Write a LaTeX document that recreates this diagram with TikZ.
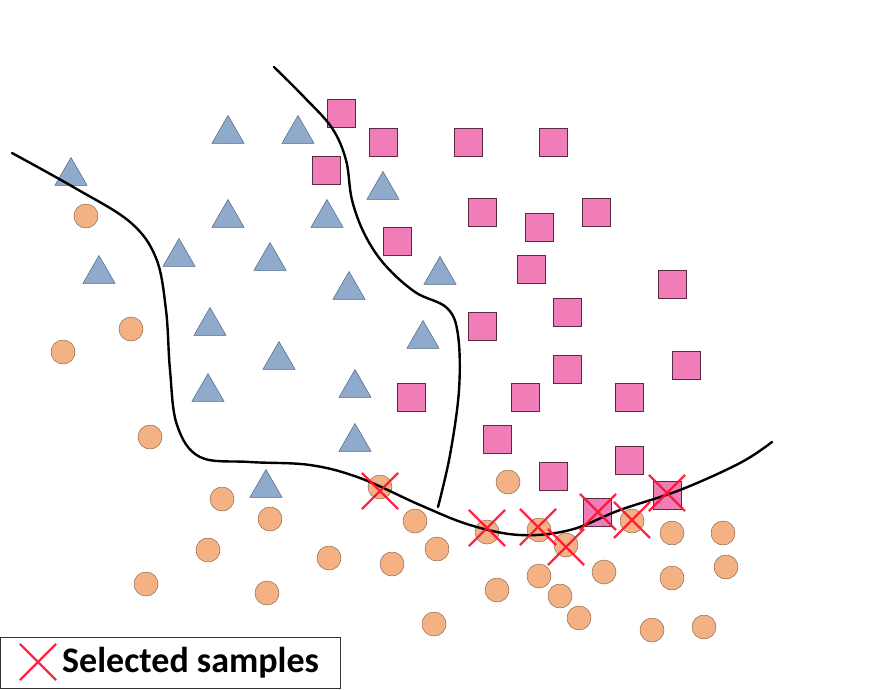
\documentclass[tikz,border=0pt]{standalone}
\usepackage{fontspec}
\setmainfont{Carlito}
\usetikzlibrary{shapes.geometric,shapes.misc}
\definecolor{trifill}{HTML}{8FAACB}
\definecolor{triedge}{HTML}{4D6584}
\definecolor{sqfill}{HTML}{F17DB8}
\definecolor{sqedge}{HTML}{5A2A40}
\definecolor{cfill}{HTML}{F4B183}
\definecolor{cedge}{HTML}{8A6A50}
\definecolor{xred}{HTML}{FF1030}
\begin{document}
\begin{tikzpicture}[x=1pt,y=-1pt,
  tri/.style={regular polygon,regular polygon sides=3,minimum size=37pt,inner sep=0pt,fill=trifill,draw=triedge,line width=0.5pt},
  sq/.style={rectangle,minimum size=28pt,inner sep=0pt,fill=sqfill,draw=sqedge,line width=0.6pt},
  circ/.style={circle,minimum size=24pt,inner sep=0pt,fill=cfill,draw=cedge,line width=0.5pt},
  xmark/.style={cross out,draw=xred,minimum size=34pt,inner sep=0pt,line width=2.2pt,opacity=0.9},
  boundary/.style={line width=2.4pt,black,line cap=round}]
\useasboundingbox (0,0) rectangle (870,689);
% triangles
\foreach \x/\y [count=\i] in {71/172,228/130,298/130,383/186,228/214,327/214,99/270,179/253,270/257,349/286,440/271,210/322,423/335,279/356,208/388,355/384,355/438,266/484}
  \node[tri] (t\i) at (\x,\y+4) {};
% squares
\foreach \x/\y [count=\i] in {341/113,383/142,468/142,553/142,326/170,482/212,539/227,596/212,397/241,531/269,672/284,567/312,482/326,567/369,686/365,411/397,525/397,629/397,497/439,629/460,553/476,597/512,667/495}
  \node[sq] (s\i) at (\x,\y) {};
% circles
\foreach \x/\y [count=\i] in {86/216,131/329,63/352,150/437,222/499,270/519,380/487,508/482,415/521,208/550,329/558,437/549,392/564,487/532,539/530,566/545,632/521,672/533,723/533,146/584,267/593,497/590,539/576,604/572,672/578,726/567,560/596,579/618,434/624,652/630,704/627}
  \node[circ] (c\i) at (\x,\y) {};
% boundaries
\draw[boundary] plot[smooth,tension=0.6] coordinates {(12,153) (75,188) (130,222) (156,258) (166,310) (170,370) (177,425) (200,457) (250,462) (310,465) (360,478) (420,505) (470,525) (520,535) (570,530) (620,510) (680,490) (740,463) (772,442)};
\draw[boundary] plot[smooth,tension=0.6] coordinates {(274,67) (305,98) (332,128) (346,160) (352,200) (365,235) (385,265) (415,292) (447,308) (458,335) (459,390) (450,455) (438,507)};
% selected samples
\foreach \x/\y [count=\i] in {380/491,487/528,538/527,566/547,598/512,632/520,667/493}
  \node[xmark] (x\i) at (\x,\y) {};
% legend
\draw[line width=0.8pt,black!80] (0.5,637) rectangle (340,688);
\node[xmark] (lx) at (38,662) {};
\node[anchor=west,font=\bfseries\fontsize{36}{40}\selectfont,inner sep=0pt] (lt) at (62,663) {Selected samples};
\end{tikzpicture}
\end{document}
